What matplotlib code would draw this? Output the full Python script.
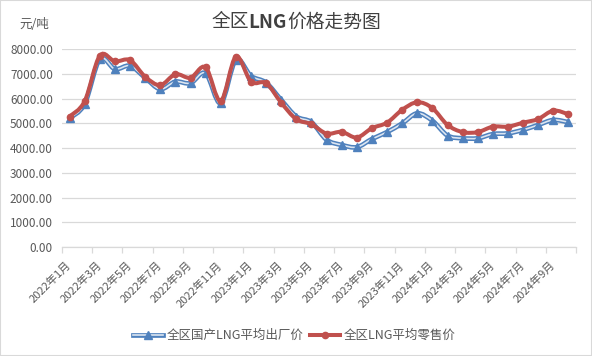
import matplotlib.pyplot as plt
from matplotlib.path import Path
from matplotlib.patches import PathPatch, Rectangle
from matplotlib.lines import Line2D

plt.rcParams['font.family'] = ['Noto Sans CJK SC', 'DejaVu Sans']

# 2022年1月 .. 2024年10月
months = [f'{y}年{m}月' for y in (2022, 2023, 2024) for m in range(1, 13)][:34]

# 全区国产LNG平均出厂价 (元/吨)
factory = [5210, 5790, 7600, 7200, 7330, 6850, 6390, 6690, 6630, 7030, 5820, 7570,
           6920, 6650, 5950, 5280, 5050, 4340, 4130, 4040, 4370, 4650, 5000, 5410,
           5110, 4510, 4400, 4400, 4570, 4600, 4740, 4940, 5140, 5050]
# 全区LNG平均零售价 (元/吨)
retail = [5280, 5900, 7740, 7510, 7560, 6890, 6550, 6990, 6850, 7270, 5910, 7700,
          6690, 6630, 5840, 5170, 4970, 4590, 4660, 4430, 4810, 5030, 5550, 5860,
          5620, 4940, 4650, 4650, 4870, 4870, 5030, 5180, 5520, 5370]

BLUE = '#4F81BD'
RED = '#C0504D'
GRAY = '#595959'
GRID = '#d9d9d9'


def smooth_path(xs, ys):
    # catmull-rom style bezier, like excel's smoothed lines
    n = len(xs)
    verts = [(xs[0], ys[0])]
    codes = [Path.MOVETO]
    for i in range(n - 1):
        xa, ya = (xs[i - 1], ys[i - 1]) if i > 0 else (xs[i], ys[i])
        xd, yd = (xs[i + 2], ys[i + 2]) if i + 2 < n else (xs[i + 1], ys[i + 1])
        c1 = (xs[i] + (xs[i + 1] - xa) / 6, ys[i] + (ys[i + 1] - ya) / 6)
        c2 = (xs[i + 1] - (xd - xs[i]) / 6, ys[i + 1] - (yd - ys[i]) / 6)
        verts += [c1, c2, (xs[i + 1], ys[i + 1])]
        codes += [Path.CURVE4] * 3
    return Path(verts, codes)


W, H = 592, 356
fig = plt.figure(figsize=(W / 100, H / 100), dpi=100)
fig.patches.append(Rectangle((0, 0), 1, 1, transform=fig.transFigure,
                             fill=False, edgecolor=GRID, lw=1.5))

ax = fig.add_axes([62 / W, 1 - 247 / H, (576 - 62) / W, (247 - 49.3) / H])
x = list(range(len(months)))

ax.add_patch(PathPatch(smooth_path(x, factory), fill=False, edgecolor=BLUE, lw=3.4, zorder=3))
ax.add_patch(PathPatch(smooth_path(x, factory), fill=False, edgecolor='#dbe5f1', lw=1.2, zorder=3))
ax.plot(x, factory, ls='none', marker='^', ms=6, color=BLUE, zorder=4)

ax.add_patch(PathPatch(smooth_path(x, retail), fill=False, edgecolor=RED, lw=2.9, zorder=5))
ax.plot(x, retail, ls='none', marker='o', ms=4.5, color=RED, zorder=6)

ax.set_xlim(-0.5, len(months) - 0.5)
ax.set_ylim(0, 8000)
ax.set_yticks(range(0, 8001, 1000))
ax.set_yticklabels([f'{v:.2f}' for v in range(0, 8001, 1000)])
ax.grid(axis='y', color=GRID, lw=0.9)
ax.set_axisbelow(True)

ax.set_xticks(x[::2])
ax.set_xticklabels(months[::2], rotation=45, ha='right', va='center',
                   rotation_mode='anchor')
ax.set_xticks([v - 0.5 for v in range(0, len(months) + 1, 2)], minor=True)
ax.tick_params(axis='x', which='major', length=0, pad=12, labelsize=8, labelcolor=GRAY)
ax.tick_params(axis='x', which='minor', length=4, color=GRID, width=0.9)
ax.tick_params(axis='y', length=0, pad=6.5, labelsize=8.5, labelcolor=GRAY)

for s in ('top', 'right', 'left'):
    ax.spines[s].set_visible(False)
ax.spines['bottom'].set_color(GRID)
ax.spines['bottom'].set_linewidth(0.9)

# title: "LNG" in bold, the rest normal, centred as one line
parts = [('全区', 'normal'), ('LNG', 'bold'), ('价格走势图', 'normal')]
texts = []
for s, wt in parts:
    texts.append(fig.text(0, 1 - 22 / H, s, ha='left', va='center',
                          fontsize=13.5, color='#404040', fontweight=wt))
r = fig.canvas.get_renderer()
widths = [t.get_window_extent(r).width for t in texts]
left = 296 - sum(widths) / 2
for t, w in zip(texts, widths):
    t.set_x(left / W)
    left += w

fig.text(34 / W, 1 - 25 / H, '元/吨', ha='center', va='center', fontsize=9, color=GRAY)

h_blue = (Line2D([], [], color=BLUE, lw=3.4),
          Line2D([], [], color='#dbe5f1', lw=1.2, marker='^', ms=6,
                 markerfacecolor=BLUE, markeredgecolor=BLUE))
h_red = Line2D([], [], color=RED, lw=2.9, marker='o', ms=4.5)
fig.legend([h_blue, h_red], ['全区国产LNG平均出厂价', '全区LNG平均零售价'],
           loc='center', bbox_to_anchor=(294 / W, 1 - 335.7 / H), ncol=2,
           frameon=False, fontsize=9, labelcolor=GRAY, handlelength=2.4,
           handletextpad=0.3, columnspacing=0.5)

fig.savefig('out.png', dpi=100)
